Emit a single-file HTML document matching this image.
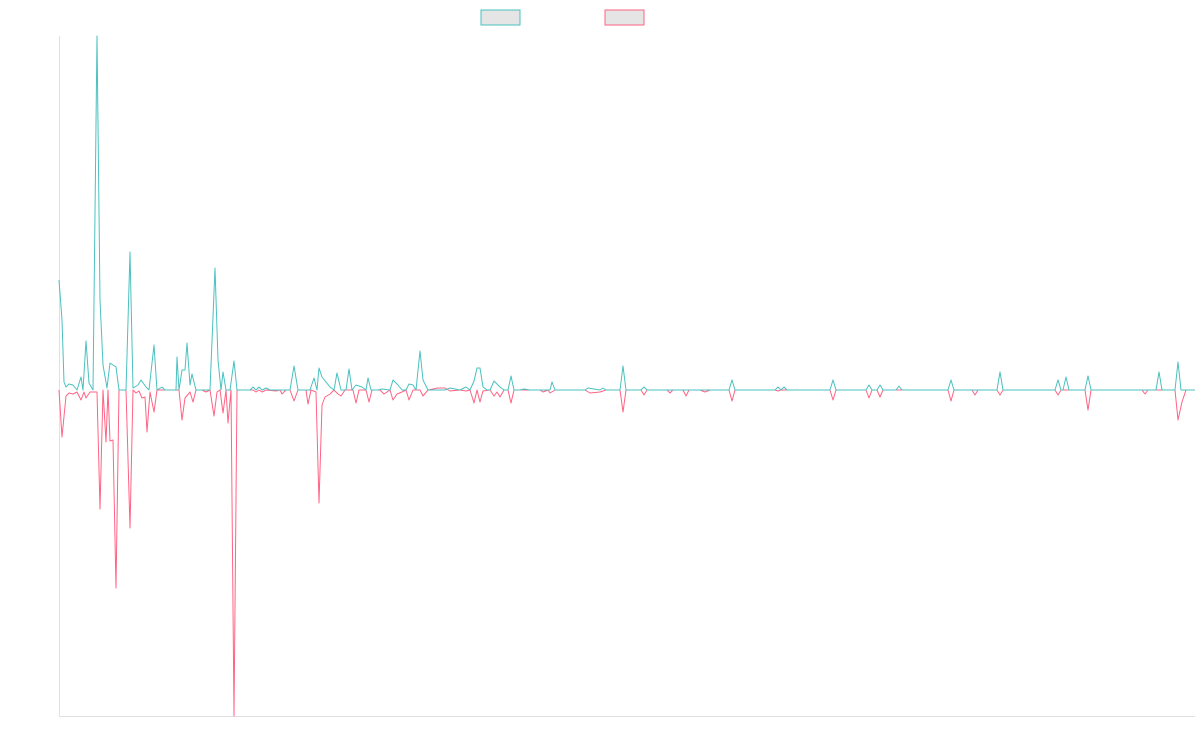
<!DOCTYPE html>
<html><head><meta charset="utf-8"><style>html,body{margin:0;padding:0;background:#fff}svg{display:block}</style></head>
<body>
<svg width="1200" height="750" viewBox="0 0 1200 750" xmlns="http://www.w3.org/2000/svg">
<rect x="0" y="0" width="1200" height="750" fill="#fff"/>
<rect x="481" y="10" width="39" height="15" fill="#e5e5e5" stroke="#4bc0c0" stroke-width="1"/>
<rect x="605" y="10" width="39" height="15" fill="#e5e5e5" stroke="#ff6384" stroke-width="1"/>
<line x1="59.5" y1="36" x2="59.5" y2="716" stroke="#e0e0e0" stroke-width="1"/>
<line x1="59" y1="716.5" x2="1195" y2="716.5" stroke="#e0e0e0" stroke-width="1"/>
<polyline fill="none" stroke="#ff6384" stroke-width="1" stroke-linejoin="round" points="59,390 62,437 66,396 69,393 73,394 77,392 81,400 84,392 86,398 90,392 97,392 100,509 103,390 106,442 108,390 110,441 113,440 116,588 119,390 126,390 130,528 133,390 136,393 139,391 142,398 145,397 147,432 150,392 154,412 157,390 179,390 182,420 185,398 190,392 193,402 196,390 202,390 206,392 210,390 214,416 217,392 220,390 223,413 226,390 228,423 231,390 234,716 237,390 253,390 256,392 259,390 262,392 266,390 276,391 280,390 282,394 286,390 290,390 294,401 298,390 306,390 308,404 311,390 316,392 319,503 322,405 325,397 330,394 334,390 338,394 341,396 345,390 353,390 356,403 359,390 366,390 369,402 372,390 380,390 384,394 390,390 393,400 397,394 402,392 406,390 409,400 413,390 420,390 423,396 428,390 438,388 445,388 450,391 460,390 466,391 470,390 474,403 477,390 480,402 483,391 490,390 494,396 497,392 500,397 504,390 508,390 511,403 514,390 540,390 543,392 548,390 550,393 555,390 585,390 590,393 600,392 606,390 620,390 623,412 626,390 641,390 644,395 647,390 667,390 670,393 673,390 683,390 686,396 689,390 700,390 705,392 710,390 729,390 732,401 735,390 775,390 778,391 781,390 830,390 833,400 836,390 866,390 869,398 872,390 877,390 880,397 883,390 948,390 951,401 954,390 972,390 975,395 978,390 997,390 1000,395 1003,390 1055,390 1058,395 1061,390 1085,390 1088,410 1091,390 1142,390 1145,394 1148,390 1175,390 1178,420 1182,402 1186,390 1195,390"/>
<polyline fill="none" stroke="#4bc0c0" stroke-width="1" stroke-linejoin="round" points="59,280 62,320 64,382 66,387 69,384 73,385 77,390 81,377 83,390 86,341 89,383 93,390 97,36 100,300 103,365 107,388 110,363 116,367 119,390 126,390 130,252 133,388 138,385 141,380 146,387 149,390 154,345 157,390 162,387 165,390 176,390 177,357 179,390 182,370 185,370 187,343 190,385 192,374 196,390 210,390 215,268 218,360 221,390 223,372 226,390 230,390 234,361 237,390 250,390 253,387 256,390 259,387 262,390 266,388 270,390 290,390 294,366 298,390 310,390 314,378 317,390 319,368 322,377 330,387 334,390 337,373 341,390 346,390 349,369 352,390 356,385 362,387 366,390 368,378 371,390 378,390 382,389 390,390 393,380 398,385 402,390 406,390 409,384 413,385 416,390 420,351 423,380 428,390 445,390 450,388 460,390 466,387 470,390 474,381 477,368 480,368 483,387 487,390 490,390 494,381 500,387 504,390 508,390 511,376 514,390 520,390 524,389 530,390 550,390 552,382 555,390 585,390 588,388 600,390 603,388 606,390 620,390 623,366 626,390 641,390 644,387 647,390 729,390 732,380 735,390 775,390 778,387 781,390 784,387 787,390 830,390 833,380 836,390 866,390 869,385 872,390 877,390 880,385 883,390 896,390 899,386 902,390 948,390 951,380 954,390 997,390 1000,372 1003,390 1055,390 1058,380 1061,390 1063,390 1066,377 1069,390 1085,390 1088,376 1091,390 1156,390 1159,372 1162,390 1175,390 1178,362 1181,390 1195,390"/>
</svg>
</body></html>
